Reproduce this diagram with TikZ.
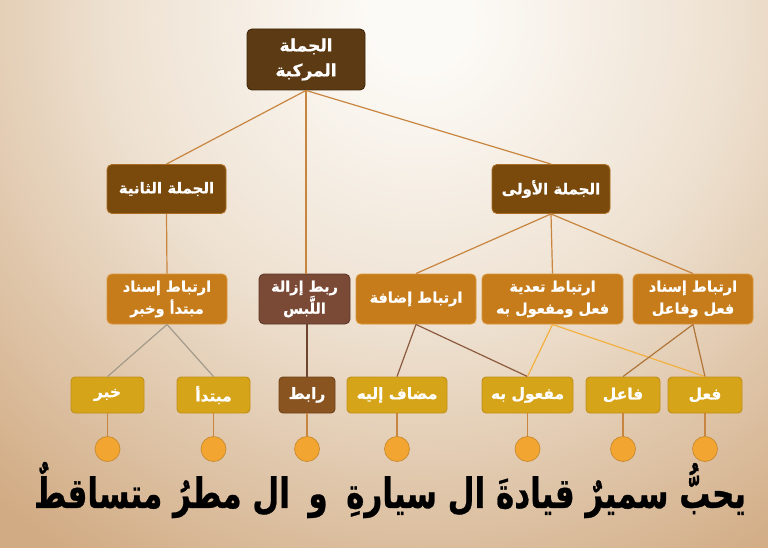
\documentclass[tikz,border=0pt]{standalone}
\usepackage{fontspec}
\usepackage{graphicx}
\TeXXeTstate=1
\newfontfamily\arb[Script=Arabic, BoldFont={DejaVu Sans Bold}, BoldFeatures={FakeBold=0.8}]{DejaVu Sans}
\newcommand\ar[1]{\beginR #1\endR}
\definecolor{bgin}{HTML}{FCFAF6}
\definecolor{bgmid}{HTML}{EEE1D1}
\definecolor{bgout}{HTML}{D1AB83}
\definecolor{topfill}{HTML}{5C3A14}
\definecolor{topdraw}{HTML}{3F270B}
\definecolor{lvtwofill}{HTML}{7A4A0D}
\definecolor{lvtwodraw}{HTML}{A86C22}
\definecolor{lvthreefill}{HTML}{C67C1B}
\definecolor{lvthreedraw}{HTML}{D8953A}
\definecolor{rbtfill}{HTML}{7B4A36}
\definecolor{rbtdraw}{HTML}{5E3828}
\definecolor{goldfill}{HTML}{D6A418}
\definecolor{golddraw}{HTML}{C18F1C}
\definecolor{rabfill}{HTML}{8A5420}
\definecolor{circfill}{HTML}{F2A531}
\definecolor{circdraw}{HTML}{C98A2E}
\definecolor{linea}{HTML}{C8853F}
\definecolor{lgray}{HTML}{A39A8A}
\definecolor{lbrown}{HTML}{8C5A3E}
\definecolor{lorange}{HTML}{F2B140}
\definecolor{lmid}{HTML}{B07538}
\definecolor{ldark}{HTML}{6E4530}
\pgfdeclareradialshading{bgshade}{\pgfpoint{0bp}{0bp}}{color(0bp)=(bgin); color(2bp)=(bgin); color(12bp)=(bgmid); color(25bp)=(bgout); color(50bp)=(bgout)}
\begin{document}
\begin{tikzpicture}[x=1pt,y=-1pt,
  box/.style={rounded corners=5pt, line width=0.9pt, text=white, align=center,
    font=\arb\bfseries\fontsize{14.5}{22}\selectfont, inner sep=1pt},
  topbox/.style={box, fill=topfill, draw=topdraw, minimum width=118pt, minimum height=61pt,
    font=\arb\bfseries\fontsize{17}{25}\selectfont},
  twobox/.style={box, fill=lvtwofill, draw=lvtwodraw, minimum height=49pt,
    font=\arb\bfseries\fontsize{15}{19}\selectfont},
  threebox/.style={box, fill=lvthreefill, draw=lvthreedraw, minimum height=50pt},
  rbtbox/.style={box, fill=rbtfill, draw=rbtdraw, minimum height=50pt},
  goldbox/.style={box, fill=goldfill, draw=golddraw, minimum height=36pt, rounded corners=4pt,
    font=\arb\bfseries\fontsize{15.5}{19}\selectfont},
  rabbox/.style={goldbox, fill=rabfill, draw=rabfill!80!black},
  dot/.style={circle, fill=circfill, draw=circdraw, line width=0.7pt, minimum size=25pt, inner sep=0pt},
  conn/.style={line width=1.2pt}
]
\useasboundingbox (0,0) rectangle (768,548);
\fill[bgout] (0,0) rectangle (768,548);
\begin{scope}
\clip (0,0) rectangle (768,548);
\shade[shading=bgshade] (420,20) circle[radius=640pt];
\end{scope}

% nodes
\node[topbox] (top) at (306,59.5) {\ar{الجملة}\\\ar{المركبة}};
\node[twobox, minimum width=119pt] (s2) at (166.5,189) {\ar{الجملة الثانية}};
\node[twobox, minimum width=118pt] (s1) at (551,189) {\ar{الجملة الأولى}};

\node[threebox, minimum width=120pt] (ma) at (167,299) {\ar{ارتباط إسناد}\\\ar{مبتدأ وخبر}};
\node[rbtbox, minimum width=91pt] (rb) at (304.5,299) {\ar{ربط إزالة}\\\ar{اللَّبس}};
\node[threebox, minimum width=120pt] (id) at (416,299) {\ar{ارتباط إضافة}};
\node[threebox, minimum width=141pt] (ta) at (552.5,299) {\ar{ارتباط تعدية}\\\ar{فعل ومفعول به}};
\node[threebox, minimum width=120pt] (is) at (693,299) {\ar{ارتباط إسناد}\\\ar{فعل وفاعل}};

\node[goldbox, minimum width=73pt] (k1) at (107.5,395) {\ar{خبر}};
\node[goldbox, minimum width=73pt] (k2) at (213.5,395) {\ar{مبتدأ}};
\node[rabbox, minimum width=56pt] (k3) at (307,395) {\ar{رابط}};
\node[goldbox, minimum width=100pt] (k4) at (397,395) {\ar{مضاف إليه}};
\node[goldbox, minimum width=91pt] (k5) at (527.5,395) {\ar{مفعول به}};
\node[goldbox, minimum width=74pt] (k6) at (623,395) {\ar{فاعل}};
\node[goldbox, minimum width=74pt] (k7) at (705,395) {\ar{فعل}};

\foreach \i/\x in {1/107.5,2/213.5,3/307,4/397,5/527.5,6/623,7/705}{
  \node[dot] (d\i) at (\x,449) {};
}

% connectors
\draw[conn, linea] (top.south) -- (s2.north);
\draw[conn, linea] (top.south) -- (s1.north);
\draw[conn, linea] (top.south) -- (top.south |- rb.north);
\draw[conn, linea] (s2.south) -- (ma.north);
\draw[conn, linea] (s1.south) -- (id.north);
\draw[conn, linea] (s1.south) -- (ta.north);
\draw[conn, linea] (s1.south) -- (is.north);
\draw[conn, lgray] (ma.south) -- (k1.north);
\draw[conn, lgray] (ma.south) -- (k2.north);
\draw[conn, ldark] (k3.north |- rb.south) -- (k3.north);
\draw[conn, lbrown] (id.south) -- (k4.north);
\draw[conn, lbrown] (id.south) -- (k5.north);
\draw[conn, lorange] (ta.south) -- (k5.north);
\draw[conn, lorange] (ta.south) -- (k7.north);
\draw[conn, lmid] (is.south) -- (k6.north);
\draw[conn, lmid] (is.south) -- (k7.north);
\foreach \i in {1,...,7}{
  \draw[conn, linea] (k\i.south) -- (d\i.north);
}

\node[font=\arb\bfseries, text=black, inner sep=0pt] (sent) at (390,490)
  {\resizebox{712pt}{46pt}{\ar{يحبُّ سميرٌ قيادةَ ال سيارةِ\hspace{0.6em}و\hspace{0.6em}ال مطرُ متساقطٌ}}};
\end{tikzpicture}
\end{document}
